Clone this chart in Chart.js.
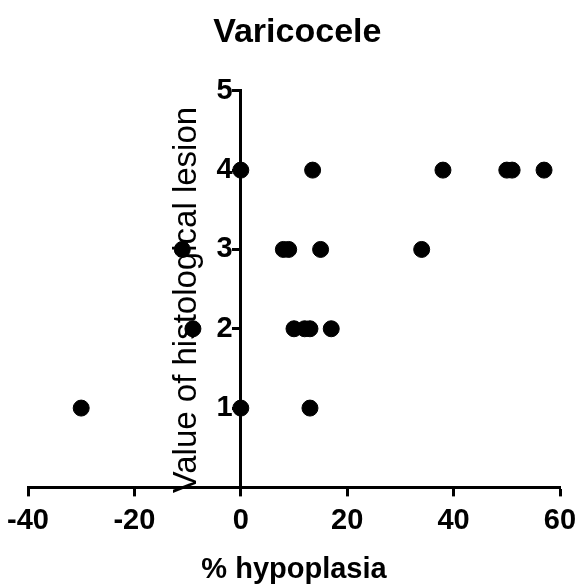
<!DOCTYPE html>
<html>
<head>
<meta charset="utf-8">
<script src="https://cdn.jsdelivr.net/npm/chart.js@4/dist/chart.umd.min.js"></script>
<style>
  html, body { margin:0; padding:0; background:#fff; }
  #wrap { width:576px; height:588px; }
</style>
</head>
<body>
<div id="wrap"><canvas id="chartVar"></canvas></div>
<script>
// % hypoplasia vs lesion value
const hypoplasia = [0, 13.5, 38, 50, 51, 57,  -11, 8, 9, 15, 34,  -9, 10, 12, 13, 17,  -30, 0, 13]
const lesion     = [4, 4, 4, 4, 4, 4,  3, 3, 3, 3, 3,  2, 2, 2, 2, 2,  1, 1, 1]
const xTicks = [-40, -20, 0, 20, 40, 60]
const yTicks = [1, 2, 3, 4, 5]
const yTitle = 'Value of histological lesion'

const FONT = '"Liberation Sans", Arial, Helvetica, sans-serif'
Chart.defaults.font.family = FONT
Chart.defaults.color = '#000'

const puntos = hypoplasia.map((x, i) => ({ x, y: lesion[i] }))

// el eje Y cruza en x=0: Chart.js gira su título al revés, así que lo pinto aparte
const tituloY = {
  id: 'tituloY',
  afterDraw(chart) {
    const { ctx, chartArea, scales } = chart
    const x0 = scales.x.getPixelForValue(0)
    ctx.save()
    ctx.translate(x0 - 54, (chartArea.top + chartArea.bottom) / 2 + 11)
    ctx.rotate(-Math.PI / 2)
    ctx.font = `33px ${FONT}`
    ctx.fillStyle = '#000'
    ctx.textAlign = 'center'
    ctx.textBaseline = 'middle'
    ctx.fillText(yTitle, 0, 0)
    ctx.restore()
  }
}

new Chart(document.getElementById('chartVar'), {
  type: 'scatter',
  data: {
    datasets: [{
      data: puntos,
      backgroundColor: '#000', borderColor: '#000',
      pointRadius: 8, pointHoverRadius: 8
    }]
  },
  options: {
    responsive:true, maintainAspectRatio:false, animation:false,
    layout:{ padding:{ left:28, right:0, top:0, bottom:1 } },
    plugins:{
      legend:{ display:false }, tooltip:{ enabled:false },
      title:{ display:true, text:'Varicocele ', font:{ size:34, weight:'bold' }, padding:{ top:12, bottom:38 } }
    },
    scales:{
      x:{
        type:'linear', min:-40, max:60,
        afterBuildTicks: s => { s.ticks = xTicks.map(v => ({ value:v })) },
        afterFit: s => { s.paddingLeft = 28; s.paddingRight = 16 },
        border:{ color:'#000', width:3 },
        grid:{ drawOnChartArea:false, drawTicks:true, tickLength:9, tickColor:'#000', tickWidth:3 },
        ticks:{ font:{ size:29, weight:'bold' }, padding:7, maxRotation:0 },
        title:{ display:true, text:'% hypoplasia', font:{ size:29, weight:'bold' }, padding:{ top:7, bottom:0 } }
      },
      y:{
        type:'linear', min:0, max:5, position:{ x:0 },
        afterBuildTicks: s => { s.ticks = yTicks.map(v => ({ value:v })) },
        border:{ color:'#000', width:3 },
        grid:{ drawOnChartArea:false, drawTicks:true, tickLength:7, tickColor:'#000', tickWidth:3 },
        ticks:{ font:{ size:29, weight:'bold' }, callback: v => v + ' ' },
        title:{ display:false }
      }
    }
  },
  plugins:[tituloY]
})
</script>
</body>
</html>
